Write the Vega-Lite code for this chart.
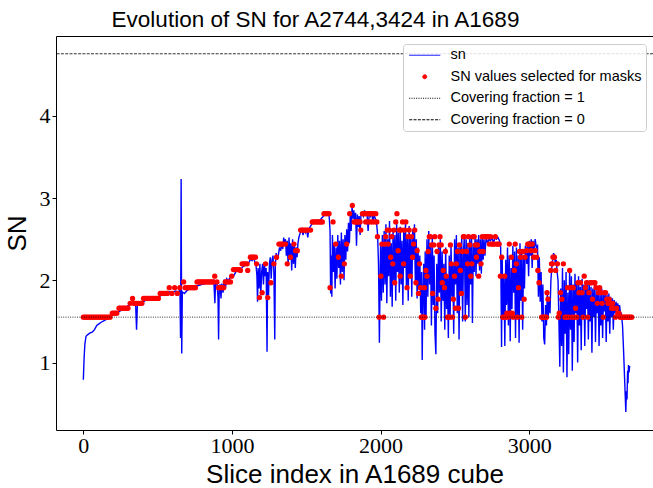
{
"$schema": "https://vega.github.io/schema/vega-lite/v6.json",
"width": 597, "height": 394,
"autosize": {"type": "none"},
"padding": {"left": 56, "top": 36, "right": 0, "bottom": 58},
"background": "white",
"config": {"view": {"stroke": null}, "font": "Liberation Sans"},
"title": {"text": "Evolution of SN for A2744,3424 in A1689", "font": "Liberation Sans", "fontSize": 22.5, "fontWeight": "normal", "color": "#000", "anchor": "middle", "dx": -39, "offset": 5},
"datasets": {
"sn": [
{"i":0,"sn":0.79},{"i":5,"sn":1.05},{"i":10,"sn":1.22},{"i":18,"sn":1.32},{"i":30,"sn":1.34},{"i":45,"sn":1.36},{"i":60,"sn":1.37},{"i":75,"sn":1.4},{"i":90,"sn":1.45},{"i":105,"sn":1.47},{"i":120,"sn":1.49},{"i":140,"sn":1.51},{"i":160,"sn":1.53},{"i":180,"sn":1.56},{"i":200,"sn":1.58},{"i":220,"sn":1.61},{"i":240,"sn":1.62},{"i":260,"sn":1.64},{"i":280,"sn":1.66},{"i":300,"sn":1.69},{"i":320,"sn":1.71},{"i":340,"sn":1.72},{"i":352,"sn":1.7},{"i":358,"sn":1.4},{"i":364,"sn":1.72},{"i":380,"sn":1.74},{"i":400,"sn":1.73},{"i":420,"sn":1.76},{"i":440,"sn":1.77},{"i":460,"sn":1.79},{"i":480,"sn":1.78},{"i":500,"sn":1.8},{"i":520,"sn":1.81},{"i":540,"sn":1.84},{"i":560,"sn":1.84},{"i":580,"sn":1.86},{"i":600,"sn":1.85},{"i":620,"sn":1.87},{"i":640,"sn":1.86},{"i":650,"sn":1.88},{"i":654,"sn":1.3},{"i":658,"sn":3.23},{"i":662,"sn":1.11},{"i":666,"sn":1.86},{"i":680,"sn":1.84},{"i":700,"sn":1.88},{"i":720,"sn":1.9},{"i":740,"sn":1.92},{"i":760,"sn":1.93},{"i":780,"sn":1.94},{"i":800,"sn":1.95},{"i":820,"sn":1.96},{"i":840,"sn":1.97},{"i":860,"sn":1.98},{"i":878,"sn":2.0},{"i":885,"sn":1.72},{"i":890,"sn":1.99},{"i":900,"sn":1.95},{"i":906,"sn":1.8},{"i":910,"sn":1.28},{"i":914,"sn":1.88},{"i":920,"sn":1.95},{"i":926,"sn":1.78},{"i":932,"sn":1.96},{"i":940,"sn":1.85},{"i":948,"sn":2.01},{"i":956,"sn":1.9},{"i":964,"sn":2.02},{"i":975,"sn":2.0},{"i":990,"sn":2.04},{"i":1000,"sn":2.06},
{"i":1010,"sn":2.05},{"i":1025,"sn":2.1},{"i":1040,"sn":2.13},{"i":1055,"sn":2.12},{"i":1070,"sn":2.16},{"i":1085,"sn":2.18},{"i":1100,"sn":2.2},{"i":1115,"sn":2.22},{"i":1125,"sn":2.26},{"i":1135,"sn":2.24},{"i":1145,"sn":2.27},{"i":1155,"sn":2.22},{"i":1162,"sn":2.18},{"i":1168,"sn":2.05},{"i":1172,"sn":1.74},{"i":1176,"sn":2.15},{"i":1182,"sn":1.9},{"i":1188,"sn":2.2},{"i":1194,"sn":1.82},{"i":1200,"sn":2.1},{"i":1206,"sn":2.2},{"i":1212,"sn":1.95},{"i":1218,"sn":2.22},{"i":1224,"sn":2.05},{"i":1230,"sn":2.15},{"i":1236,"sn":1.13},{"i":1240,"sn":2.1},{"i":1246,"sn":1.82},{"i":1252,"sn":2.2},{"i":1258,"sn":2.28},{"i":1264,"sn":2.02},{"i":1270,"sn":2.25},{"i":1276,"sn":2.3},{"i":1282,"sn":2.1},{"i":1288,"sn":1.28},{"i":1292,"sn":2.2},{"i":1298,"sn":2.33},{"i":1305,"sn":2.25},{"i":1312,"sn":2.3},{"i":1320,"sn":2.4},{"i":1328,"sn":2.36},{"i":1335,"sn":2.45},{"i":1342,"sn":2.38},{"i":1348,"sn":2.52},{"i":1354,"sn":2.42},{"i":1360,"sn":2.5},{"i":1366,"sn":2.3},{"i":1372,"sn":2.48},{"i":1378,"sn":2.18},{"i":1384,"sn":2.52},{"i":1390,"sn":2.25},{"i":1396,"sn":2.45},{"i":1402,"sn":2.12},{"i":1408,"sn":2.5},{"i":1414,"sn":2.2},{"i":1420,"sn":2.42},{"i":1426,"sn":2.15},{"i":1432,"sn":2.4},{"i":1438,"sn":2.28},{"i":1444,"sn":2.45},{"i":1450,"sn":2.52},{"i":1460,"sn":2.58},{"i":1470,"sn":2.62},{"i":1478,"sn":2.55},{"i":1486,"sn":2.63},{"i":1494,"sn":2.58},{"i":1502,"sn":2.62},{"i":1510,"sn":2.52},{"i":1518,"sn":2.63},{"i":1526,"sn":2.65},{"i":1536,"sn":2.68},{"i":1546,"sn":2.7},{"i":1556,"sn":2.72},{"i":1566,"sn":2.7},{"i":1576,"sn":2.73},{"i":1586,"sn":2.72},{"i":1596,"sn":2.74},{"i":1606,"sn":2.76},{"i":1616,"sn":2.78},{"i":1626,"sn":2.8},{"i":1636,"sn":2.82},{"i":1646,"sn":2.8},{"i":1654,"sn":2.78},
{"i":1660,"sn":2.6},{"i":1664,"sn":1.84},{"i":1668,"sn":2.3},{"i":1672,"sn":1.8},{"i":1676,"sn":2.55},{"i":1682,"sn":2.1},{"i":1688,"sn":2.45},{"i":1694,"sn":1.9},{"i":1700,"sn":2.4},{"i":1706,"sn":2.02},{"i":1712,"sn":2.55},{"i":1718,"sn":2.15},{"i":1724,"sn":2.48},{"i":1730,"sn":1.95},{"i":1736,"sn":2.58},{"i":1742,"sn":2.1},{"i":1748,"sn":2.5},{"i":1754,"sn":2.0},{"i":1760,"sn":2.55},{"i":1766,"sn":2.25},{"i":1772,"sn":2.62},{"i":1778,"sn":2.35},{"i":1784,"sn":2.7},{"i":1790,"sn":2.45},{"i":1796,"sn":2.78},{"i":1802,"sn":2.6},{"i":1808,"sn":2.9},{"i":1814,"sn":2.75},{"i":1820,"sn":2.85},{"i":1826,"sn":2.7},{"i":1832,"sn":2.82},{"i":1838,"sn":2.42},{"i":1844,"sn":2.8},{"i":1850,"sn":2.65},{"i":1856,"sn":2.78},{"i":1862,"sn":2.55},{"i":1868,"sn":2.8},{"i":1876,"sn":2.82},{"i":1884,"sn":2.78},{"i":1892,"sn":2.85},{"i":1900,"sn":2.8},{"i":1908,"sn":2.84},{"i":1916,"sn":2.6},{"i":1924,"sn":2.82},{"i":1932,"sn":2.78},{"i":1940,"sn":2.84},{"i":1948,"sn":2.7},{"i":1956,"sn":2.8},{"i":1964,"sn":2.75},{"i":1972,"sn":2.72},{"i":1980,"sn":2.55},
{"i":1986,"sn":2.2},{"i":1992,"sn":1.24},{"i":1996,"sn":1.9},{"i":2000,"sn":2.45},{"i":2006,"sn":1.75},{"i":2012,"sn":2.55},{"i":2018,"sn":1.85},{"i":2024,"sn":2.6},{"i":2030,"sn":1.95},{"i":2036,"sn":2.68},{"i":2042,"sn":1.72},{"i":2048,"sn":2.5},{"i":2054,"sn":2.05},{"i":2060,"sn":2.72},{"i":2066,"sn":1.8},{"i":2072,"sn":2.45},{"i":2078,"sn":1.68},{"i":2084,"sn":2.62},{"i":2090,"sn":2.0},{"i":2096,"sn":2.55},{"i":2102,"sn":1.75},{"i":2108,"sn":2.7},{"i":2114,"sn":2.1},{"i":2120,"sn":2.58},{"i":2126,"sn":1.85},{"i":2132,"sn":2.65},{"i":2138,"sn":1.95},{"i":2144,"sn":2.48},{"i":2150,"sn":1.7},{"i":2156,"sn":2.62},{"i":2162,"sn":2.15},{"i":2168,"sn":2.7},{"i":2174,"sn":1.9},{"i":2180,"sn":2.52},{"i":2186,"sn":1.75},{"i":2192,"sn":2.66},{"i":2198,"sn":2.05},{"i":2204,"sn":2.55},{"i":2210,"sn":1.8},{"i":2216,"sn":2.62},{"i":2222,"sn":2.25},{"i":2228,"sn":2.68},{"i":2234,"sn":1.95},{"i":2240,"sn":2.5},{"i":2246,"sn":1.78},{"i":2252,"sn":2.4},{"i":2258,"sn":1.9},{"i":2264,"sn":2.3},{"i":2270,"sn":1.6},{"i":2276,"sn":2.1},{"i":2280,"sn":1.03},{"i":2284,"sn":1.7},{"i":2290,"sn":2.2},{"i":2296,"sn":1.4},
{"i":2300,"sn":2.35},{"i":2306,"sn":1.55},{"i":2312,"sn":2.5},{"i":2318,"sn":1.8},{"i":2324,"sn":2.6},{"i":2330,"sn":1.95},{"i":2336,"sn":2.45},{"i":2342,"sn":1.45},{"i":2348,"sn":2.55},{"i":2354,"sn":1.7},{"i":2360,"sn":2.3},{"i":2366,"sn":1.36},{"i":2372,"sn":1.1},{"i":2378,"sn":2.2},{"i":2384,"sn":1.6},{"i":2390,"sn":2.45},{"i":2396,"sn":1.85},{"i":2402,"sn":2.5},{"i":2408,"sn":1.5},{"i":2414,"sn":2.35},{"i":2420,"sn":1.75},{"i":2426,"sn":2.2},{"i":2432,"sn":1.4},{"i":2438,"sn":2.4},{"i":2444,"sn":1.65},{"i":2450,"sn":2.05},{"i":2456,"sn":1.3},{"i":2462,"sn":2.3},{"i":2468,"sn":1.55},{"i":2474,"sn":2.45},{"i":2480,"sn":1.8},{"i":2486,"sn":2.2},{"i":2492,"sn":1.35},{"i":2498,"sn":2.5},{"i":2504,"sn":1.95},{"i":2510,"sn":2.55},{"i":2516,"sn":1.6},{"i":2522,"sn":2.4},{"i":2528,"sn":1.28},{"i":2534,"sn":2.45},{"i":2540,"sn":1.85},{"i":2546,"sn":2.55},{"i":2552,"sn":1.5},{"i":2558,"sn":2.35},{"i":2564,"sn":2.55},
{"i":2570,"sn":1.5},{"i":2576,"sn":2.5},{"i":2582,"sn":1.7},{"i":2588,"sn":2.45},{"i":2594,"sn":1.55},{"i":2600,"sn":2.52},{"i":2606,"sn":1.95},{"i":2612,"sn":2.55},{"i":2618,"sn":1.48},{"i":2624,"sn":2.45},{"i":2630,"sn":2.1},{"i":2636,"sn":2.55},{"i":2642,"sn":2.05},{"i":2648,"sn":2.5},{"i":2654,"sn":2.2},{"i":2660,"sn":2.55},{"i":2666,"sn":2.12},{"i":2672,"sn":2.5},{"i":2678,"sn":2.08},{"i":2684,"sn":2.55},{"i":2690,"sn":2.25},{"i":2696,"sn":2.5},{"i":2702,"sn":2.3},{"i":2710,"sn":2.52},{"i":2720,"sn":2.45},{"i":2730,"sn":2.5},{"i":2740,"sn":2.48},{"i":2750,"sn":2.52},{"i":2760,"sn":2.45},{"i":2770,"sn":2.52},{"i":2780,"sn":2.5},{"i":2790,"sn":2.52},{"i":2800,"sn":2.48},{"i":2808,"sn":2.4},
{"i":2814,"sn":1.19},{"i":2818,"sn":2.3},{"i":2824,"sn":1.55},{"i":2830,"sn":2.05},{"i":2836,"sn":1.2},{"i":2842,"sn":2.25},{"i":2848,"sn":1.7},{"i":2854,"sn":2.4},{"i":2860,"sn":1.45},{"i":2866,"sn":2.3},{"i":2872,"sn":1.26},{"i":2878,"sn":2.15},{"i":2884,"sn":1.65},{"i":2890,"sn":2.42},{"i":2896,"sn":1.85},{"i":2902,"sn":2.35},{"i":2908,"sn":1.3},{"i":2914,"sn":2.4},{"i":2920,"sn":1.55},{"i":2926,"sn":2.3},{"i":2932,"sn":1.24},{"i":2938,"sn":2.45},{"i":2944,"sn":1.75},{"i":2950,"sn":2.38},{"i":2956,"sn":1.4},{"i":2962,"sn":2.3},{"i":2968,"sn":1.9},{"i":2974,"sn":2.42},
{"i":2978,"sn":2.4},{"i":2984,"sn":2.2},{"i":2990,"sn":2.45},{"i":2996,"sn":2.05},{"i":3002,"sn":2.48},{"i":3008,"sn":2.3},{"i":3014,"sn":2.5},{"i":3020,"sn":2.15},{"i":3026,"sn":2.48},{"i":3032,"sn":2.35},{"i":3040,"sn":2.5},{"i":3048,"sn":2.4},{"i":3056,"sn":2.42},{"i":3062,"sn":1.8},{"i":3068,"sn":2.28},{"i":3074,"sn":1.74},{"i":3080,"sn":2.1},{"i":3086,"sn":1.5},{"i":3092,"sn":1.95},{"i":3098,"sn":1.3},{"i":3104,"sn":1.22},{"i":3110,"sn":1.7},{"i":3116,"sn":1.45},{"i":3122,"sn":1.85},{"i":3128,"sn":1.55},{"i":3134,"sn":1.8},{"i":3140,"sn":1.6},{"i":3146,"sn":2.0},{"i":3152,"sn":2.15},{"i":3158,"sn":2.25},{"i":3164,"sn":2.33},{"i":3170,"sn":2.3},{"i":3176,"sn":2.2},{"i":3182,"sn":2.25},{"i":3188,"sn":2.1},{"i":3194,"sn":2.0},{"i":3200,"sn":1.5},{"i":3206,"sn":0.95},{"i":3212,"sn":1.9},{"i":3218,"sn":1.2},{"i":3224,"sn":2.15},{"i":3230,"sn":0.88},{"i":3236,"sn":2.0},{"i":3242,"sn":1.35},{"i":3248,"sn":2.1},{"i":3254,"sn":0.82},{"i":3260,"sn":1.85},{"i":3266,"sn":1.1},{"i":3272,"sn":2.12},{"i":3278,"sn":1.4},{"i":3284,"sn":2.05},{"i":3290,"sn":0.9},{"i":3296,"sn":1.95},{"i":3302,"sn":1.25},{"i":3308,"sn":2.08},{"i":3314,"sn":1.6},{"i":3320,"sn":1.98},{"i":3326,"sn":1.0},{"i":3332,"sn":2.05},{"i":3338,"sn":1.45},{"i":3344,"sn":1.92},{"i":3350,"sn":1.15},{"i":3356,"sn":2.02},{"i":3362,"sn":1.55},{"i":3368,"sn":1.95},{"i":3374,"sn":1.2},{"i":3380,"sn":1.98},{"i":3386,"sn":1.65},{"i":3392,"sn":2.0},{"i":3398,"sn":1.28},{"i":3404,"sn":1.95},{"i":3410,"sn":1.5},{"i":3416,"sn":1.92},{"i":3422,"sn":1.12},{"i":3428,"sn":1.9},{"i":3434,"sn":1.55},{"i":3440,"sn":1.95},{"i":3446,"sn":1.25},{"i":3452,"sn":1.88},{"i":3458,"sn":1.6},{"i":3464,"sn":1.92},{"i":3470,"sn":1.2},{"i":3476,"sn":1.85},{"i":3482,"sn":1.45},{"i":3488,"sn":1.9},{"i":3494,"sn":1.3},{"i":3500,"sn":1.85},{"i":3506,"sn":1.62},{"i":3512,"sn":1.86},{"i":3518,"sn":1.25},{"i":3524,"sn":1.82},{"i":3530,"sn":1.5},{"i":3536,"sn":1.84},{"i":3542,"sn":1.35},{"i":3548,"sn":1.8},{"i":3554,"sn":1.55},{"i":3560,"sn":1.78},{"i":3566,"sn":1.4},{"i":3572,"sn":1.76},{"i":3578,"sn":1.6},{"i":3584,"sn":1.74},{"i":3590,"sn":1.65},{"i":3596,"sn":1.72},{"i":3602,"sn":1.62},{"i":3608,"sn":1.7},{"i":3614,"sn":1.6},{"i":3620,"sn":1.6},{"i":3628,"sn":1.45},{"i":3636,"sn":1.1},{"i":3644,"sn":0.7},{"i":3650,"sn":0.4},{"i":3654,"sn":0.65},{"i":3658,"sn":0.55},{"i":3662,"sn":0.9},{"i":3665,"sn":0.75},{"i":3668,"sn":0.97},{"i":3672,"sn":0.88},{"i":3676,"sn":0.96}
],
"sel": [
{"i":0,"sn":1.552},{"i":10,"sn":1.552},{"i":20,"sn":1.552},{"i":30,"sn":1.552},{"i":40,"sn":1.552},{"i":50,"sn":1.552},{"i":60,"sn":1.552},{"i":70,"sn":1.552},{"i":80,"sn":1.552},{"i":90,"sn":1.552},{"i":100,"sn":1.552},{"i":110,"sn":1.552},{"i":120,"sn":1.552},{"i":130,"sn":1.552},{"i":140,"sn":1.552},{"i":150,"sn":1.552},{"i":160,"sn":1.552},{"i":170,"sn":1.552},{"i":180,"sn":1.552},
{"i":195,"sn":1.6},{"i":205,"sn":1.6},{"i":215,"sn":1.6},{"i":225,"sn":1.6},{"i":240,"sn":1.66},{"i":250,"sn":1.66},{"i":260,"sn":1.66},{"i":270,"sn":1.66},{"i":280,"sn":1.66},{"i":290,"sn":1.66},{"i":300,"sn":1.66},{"i":315,"sn":1.72},{"i":331,"sn":1.78},{"i":340,"sn":1.72},{"i":350,"sn":1.72},{"i":360,"sn":1.72},{"i":372,"sn":1.72},{"i":384,"sn":1.72},{"i":394,"sn":1.72},
{"i":405,"sn":1.78},{"i":415,"sn":1.78},{"i":425,"sn":1.78},{"i":435,"sn":1.78},{"i":445,"sn":1.78},{"i":455,"sn":1.78},{"i":465,"sn":1.78},{"i":475,"sn":1.78},{"i":485,"sn":1.78},{"i":495,"sn":1.78},{"i":505,"sn":1.78},{"i":517,"sn":1.84},{"i":527,"sn":1.84},{"i":537,"sn":1.84},{"i":547,"sn":1.84},{"i":557,"sn":1.84},{"i":565,"sn":1.84},{"i":578,"sn":1.91},{"i":596,"sn":1.84},{"i":614,"sn":1.91},{"i":632,"sn":1.84},{"i":649,"sn":1.91},{"i":675,"sn":1.98},
{"i":686,"sn":1.91},{"i":696,"sn":1.91},{"i":706,"sn":1.91},{"i":716,"sn":1.91},{"i":726,"sn":1.91},{"i":736,"sn":1.91},{"i":746,"sn":1.91},{"i":754,"sn":1.91},{"i":765,"sn":1.98},{"i":775,"sn":1.98},{"i":785,"sn":1.98},{"i":795,"sn":1.98},{"i":805,"sn":1.98},{"i":815,"sn":1.98},{"i":825,"sn":1.98},{"i":835,"sn":1.98},{"i":845,"sn":1.98},{"i":855,"sn":1.98},{"i":865,"sn":1.98},{"i":875,"sn":1.98},{"i":884,"sn":2.05},{"i":899,"sn":1.98},{"i":910,"sn":1.91},{"i":920,"sn":1.91},{"i":932,"sn":1.91},{"i":944,"sn":1.91},{"i":955,"sn":1.98},{"i":965,"sn":1.98},{"i":978,"sn":1.98},{"i":990,"sn":1.98},{"i":998,"sn":2.05},
{"i":1010,"sn":2.13},{"i":1020,"sn":2.13},{"i":1030,"sn":2.13},{"i":1040,"sn":2.13},{"i":1050,"sn":2.13},{"i":1057,"sn":2.12},{"i":1068,"sn":2.2},{"i":1078,"sn":2.2},{"i":1090,"sn":2.2},{"i":1102,"sn":2.2},{"i":1106,"sn":2.12},{"i":1124,"sn":2.28},{"i":1135,"sn":2.28},{"i":1146,"sn":2.28},{"i":1158,"sn":2.28},{"i":1165,"sn":2.2},{"i":1185,"sn":1.79},{"i":1203,"sn":1.85},{"i":1226,"sn":2.2},{"i":1241,"sn":1.79},{"i":1262,"sn":1.97},{"i":1282,"sn":2.2},{"i":1300,"sn":2.28},
{"i":1316,"sn":2.44},{"i":1325,"sn":2.44},{"i":1335,"sn":2.44},{"i":1345,"sn":2.44},{"i":1360,"sn":2.44},{"i":1372,"sn":2.2},{"i":1394,"sn":2.28},{"i":1417,"sn":2.44},{"i":1428,"sn":2.36},{"i":1440,"sn":2.36},
{"i":1462,"sn":2.61},{"i":1472,"sn":2.61},{"i":1482,"sn":2.61},{"i":1492,"sn":2.61},{"i":1502,"sn":2.61},{"i":1512,"sn":2.61},{"i":1529,"sn":2.61},{"i":1540,"sn":2.71},{"i":1550,"sn":2.71},{"i":1560,"sn":2.71},{"i":1570,"sn":2.71},{"i":1580,"sn":2.71},{"i":1590,"sn":2.71},{"i":1600,"sn":2.71},{"i":1608,"sn":2.71},
{"i":1619,"sn":2.81},{"i":1630,"sn":2.81},{"i":1640,"sn":2.81},{"i":1653,"sn":2.81},{"i":1660,"sn":1.91},{"i":1680,"sn":2.71},{"i":1698,"sn":2.44},{"i":1716,"sn":2.28},{"i":1736,"sn":2.05},{"i":1756,"sn":2.2},{"i":1772,"sn":2.44},{"i":1792,"sn":2.81},{"i":1810,"sn":2.91},
{"i":1822,"sn":2.71},{"i":1832,"sn":2.71},{"i":1842,"sn":2.71},{"i":1852,"sn":2.71},{"i":1862,"sn":2.71},{"i":1867,"sn":2.61},{"i":1878,"sn":2.81},{"i":1888,"sn":2.81},{"i":1898,"sn":2.81},{"i":1908,"sn":2.81},{"i":1918,"sn":2.81},{"i":1928,"sn":2.81},{"i":1940,"sn":2.81},{"i":1950,"sn":2.81},{"i":1968,"sn":2.81},{"i":1900,"sn":2.71},{"i":1912,"sn":2.71},{"i":1930,"sn":2.71},{"i":1945,"sn":2.71},{"i":1960,"sn":2.71},{"i":1975,"sn":2.71},
{"i":1979,"sn":2.53},{"i":1990,"sn":1.552},{"i":2002,"sn":2.05},{"i":2009,"sn":2.44},{"i":2020,"sn":1.552},{"i":2029,"sn":2.44},
{"i":2035,"sn":2.53},{"i":2045,"sn":2.61},{"i":2052,"sn":2.44},{"i":2060,"sn":2.61},{"i":2068,"sn":2.28},{"i":2075,"sn":2.53},{"i":2082,"sn":2.2},{"i":2090,"sn":2.61},{"i":2095,"sn":1.97},{"i":2102,"sn":2.71},{"i":2110,"sn":2.81},{"i":2118,"sn":2.36},{"i":2125,"sn":2.61},{"i":2132,"sn":2.05},{"i":2140,"sn":2.61},{"i":2148,"sn":2.71},{"i":2155,"sn":2.2},{"i":2162,"sn":2.61},{"i":2170,"sn":2.71},{"i":2178,"sn":1.91},{"i":2185,"sn":2.53},{"i":2192,"sn":2.61},{"i":2200,"sn":2.05},{"i":2208,"sn":2.53},{"i":2215,"sn":2.28},{"i":2222,"sn":2.44},{"i":2230,"sn":2.61},{"i":2238,"sn":1.97},{"i":2246,"sn":2.36},{"i":2255,"sn":1.84},{"i":2262,"sn":2.2},{"i":2268,"sn":1.91},
{"i":2274,"sn":1.552},{"i":2282,"sn":1.552},{"i":2290,"sn":1.552},{"i":2298,"sn":1.552},{"i":2295,"sn":1.91},{"i":2305,"sn":2.12},{"i":2312,"sn":2.05},{"i":2320,"sn":2.35},{"i":2328,"sn":2.53},{"i":2335,"sn":2.53},{"i":2342,"sn":2.43},{"i":2350,"sn":1.84},{"i":2358,"sn":2.43},{"i":2365,"sn":2.53},
{"i":2372,"sn":1.66},{"i":2380,"sn":2.35},{"i":2387,"sn":1.77},{"i":2394,"sn":2.43},{"i":2400,"sn":2.53},{"i":2408,"sn":2.43},{"i":2415,"sn":1.97},{"i":2422,"sn":2.12},{"i":2430,"sn":1.91},{"i":2436,"sn":2.35},{"i":2442,"sn":2.05},{"i":2450,"sn":1.552},{"i":2456,"sn":1.552},{"i":2462,"sn":1.552},{"i":2470,"sn":2.43},{"i":2476,"sn":2.2},{"i":2484,"sn":1.552},{"i":2490,"sn":1.77},{"i":2497,"sn":2.05},{"i":2504,"sn":1.66},{"i":2510,"sn":2.2},{"i":2517,"sn":2.35},{"i":2524,"sn":1.66},{"i":2530,"sn":2.43},{"i":2537,"sn":2.12},{"i":2544,"sn":1.84},{"i":2550,"sn":2.35},{"i":2557,"sn":2.53},{"i":2563,"sn":2.53},{"i":2570,"sn":1.552},
{"i":2578,"sn":2.35},{"i":2585,"sn":2.2},{"i":2592,"sn":2.53},{"i":2600,"sn":2.43},{"i":2607,"sn":2.05},{"i":2614,"sn":2.2},{"i":2622,"sn":2.53},{"i":2630,"sn":2.53},{"i":2638,"sn":2.43},{"i":2645,"sn":2.28},{"i":2652,"sn":2.43},{"i":2660,"sn":2.05},{"i":2668,"sn":2.35},{"i":2676,"sn":2.2},{"i":2684,"sn":2.53},{"i":2690,"sn":2.35},{"i":2700,"sn":2.53},{"i":2708,"sn":2.53},{"i":2716,"sn":2.53},{"i":2724,"sn":2.53},{"i":2732,"sn":2.44},{"i":2740,"sn":2.53},{"i":2748,"sn":2.44},{"i":2756,"sn":2.44},{"i":2764,"sn":2.44},{"i":2772,"sn":2.53},{"i":2780,"sn":2.44},{"i":2790,"sn":2.44},{"i":2798,"sn":2.44},{"i":2806,"sn":2.05},
{"i":2815,"sn":2.28},{"i":2822,"sn":1.552},{"i":2828,"sn":1.552},{"i":2835,"sn":2.05},{"i":2842,"sn":1.552},{"i":2850,"sn":1.6},{"i":2858,"sn":1.552},{"i":2866,"sn":2.44},{"i":2874,"sn":1.6},{"i":2880,"sn":2.28},{"i":2886,"sn":1.6},{"i":2892,"sn":1.552},{"i":2900,"sn":2.12},{"i":2906,"sn":2.44},{"i":2914,"sn":2.2},{"i":2920,"sn":1.552},{"i":2928,"sn":1.91},{"i":2935,"sn":2.35},{"i":2942,"sn":2.28},{"i":2950,"sn":1.552},{"i":2958,"sn":2.35},{"i":2966,"sn":1.77},{"i":2972,"sn":2.28},
{"i":2982,"sn":2.36},{"i":2990,"sn":2.44},{"i":2998,"sn":2.44},{"i":3005,"sn":2.44},{"i":3012,"sn":2.36},{"i":3020,"sn":2.44},{"i":3030,"sn":2.28},{"i":3040,"sn":2.36},{"i":3050,"sn":2.28},{"i":3058,"sn":2.12},{"i":3066,"sn":1.97},
{"i":3084,"sn":1.552},{"i":3092,"sn":1.552},{"i":3100,"sn":1.552},{"i":3108,"sn":1.552},{"i":3116,"sn":1.552},{"i":3120,"sn":1.85},{"i":3126,"sn":1.77},{"i":3145,"sn":2.12},{"i":3150,"sn":2.2},{"i":3156,"sn":2.2},{"i":3160,"sn":2.28},
{"i":3170,"sn":2.28},{"i":3178,"sn":2.12},{"i":3190,"sn":2.2},{"i":3196,"sn":1.552},{"i":3202,"sn":1.6},{"i":3210,"sn":1.85},{"i":3220,"sn":1.77},{"i":3230,"sn":2.2},{"i":3240,"sn":1.552},{"i":3250,"sn":1.552},{"i":3258,"sn":1.91},{"i":3265,"sn":1.552},{"i":3272,"sn":2.12},{"i":3280,"sn":1.91},{"i":3288,"sn":1.552},{"i":3296,"sn":1.91},{"i":3305,"sn":1.552},{"i":3312,"sn":1.66},{"i":3320,"sn":1.552},{"i":3328,"sn":1.97},{"i":3335,"sn":1.85},{"i":3345,"sn":1.97},{"i":3355,"sn":1.85},{"i":3362,"sn":1.552},{"i":3370,"sn":2.05},{"i":3378,"sn":1.91},{"i":3386,"sn":1.97},{"i":3394,"sn":1.552},{"i":3402,"sn":1.85},{"i":3410,"sn":1.97},{"i":3418,"sn":1.97},{"i":3426,"sn":1.77},{"i":3434,"sn":1.97},{"i":3442,"sn":1.97},{"i":3450,"sn":1.91},{"i":3458,"sn":1.72},{"i":3466,"sn":1.85},{"i":3474,"sn":1.91},{"i":3482,"sn":1.85},{"i":3490,"sn":1.72},{"i":3498,"sn":1.552},{"i":3506,"sn":1.85},{"i":3514,"sn":1.85},{"i":3522,"sn":1.77},{"i":3530,"sn":1.72},{"i":3538,"sn":1.77},{"i":3546,"sn":1.72},{"i":3554,"sn":1.66},{"i":3562,"sn":1.72},{"i":3570,"sn":1.66},{"i":3580,"sn":1.552},{"i":3588,"sn":1.66},{"i":3596,"sn":1.6},{"i":3604,"sn":1.6},{"i":3612,"sn":1.552},
{"i":3618,"sn":1.552},{"i":3626,"sn":1.552},{"i":3634,"sn":1.552},{"i":3642,"sn":1.552},{"i":3650,"sn":1.552},{"i":3658,"sn":1.552},{"i":3666,"sn":1.552},{"i":3674,"sn":1.552},{"i":3682,"sn":1.552},{"i":3690,"sn":1.552}
]
},
"layer": [
{"data": {"name": "sn"}, "mark": {"type": "line", "strokeWidth": 1.4, "clip": true},
 "encoding": {
  "x": {"field": "i", "type": "quantitative", "scale": {"domain": [-184, 3833], "nice": false, "zero": false},
        "axis": {"values": [0, 1000, 2000, 3000], "format": "d", "title": "Slice index in A1689 cube", "titleFont": "Liberation Sans", "titleFontSize": 26, "titleFontWeight": "normal", "titleColor": "#000", "titlePadding": 5, "labelFont": "Liberation Serif", "labelFontSize": 22, "labelColor": "#000", "labelPadding": 1, "labelFlush": false, "tickSize": 4, "tickColor": "#000", "domainColor": "#000", "grid": false,
                 "encode": {"ticks": {"update": {"y2": {"value": -4}}}}}},
  "y": {"field": "sn", "type": "quantitative", "scale": {"domain": [0.18, 4.97], "nice": false, "zero": false},
        "axis": {"values": [1, 2, 3, 4], "format": "d", "title": "SN", "titleFont": "Liberation Sans", "titleFontSize": 26, "titleFontWeight": "normal", "titleColor": "#000", "titlePadding": 9, "labelFont": "Liberation Serif", "labelFontSize": 22, "labelColor": "#000", "labelPadding": 2, "labelFlush": false, "tickSize": 4, "tickColor": "#000", "domainColor": "#000", "grid": false,
                 "encode": {"ticks": {"update": {"x2": {"value": 4}}}}}},
  "color": {"datum": "sn", "type": "nominal",
    "scale": {"domain": ["sn", "SN values selected for masks", "Covering fraction = 1", "Covering fraction = 0"], "range": ["#0000ff", "#ff0000", "#000000", "#000000"]},
    "legend": {"title": null, "orient": "none", "legendX": 347, "legendY": 8, "fillColor": "rgba(255,255,255,0.85)", "strokeColor": "#cccccc", "cornerRadius": 3, "padding": 4, "labelFont": "Liberation Sans", "labelFontSize": 14.5, "labelColor": "#000", "labelOffset": 29, "labelLimit": 0, "rowPadding": 6.5, "symbolSize": 100, "symbolStrokeWidth": 1,
      "encode": {"symbols": {"update": {
        "shape": {"signal": "datum.value === 'SN values selected for masks' ? 'M2.5,0A0.4,0.4 0 1,1 1.7,0A0.4,0.4 0 1,1 2.5,0Z' : 'M-1,0H5.2'"},
        "size": {"value": 100},
        "fill": {"signal": "datum.value === 'SN values selected for masks' ? '#ff0000' : 'transparent'"},
        "stroke": {"signal": "datum.value === 'SN values selected for masks' ? 'transparent' : (datum.value === 'sn' ? '#0000ff' : '#000000')"},
        "strokeDash": {"signal": "datum.value === 'Covering fraction = 1' ? [1, 1.3] : (datum.value === 'Covering fraction = 0' ? [3, 1.3] : [1, 0])"},
        "strokeWidth": {"value": 1},
        "opacity": {"value": 1}}}}}}
 }},
{"data": {"name": "sel"}, "mark": {"type": "point", "filled": true, "opacity": 1, "size": 28, "clip": true},
 "encoding": {
  "x": {"field": "i", "type": "quantitative", "axis": {"orient": "top", "labels": false, "ticks": false, "title": null, "domain": true, "domainColor": "#000", "grid": false, "minExtent": 0, "maxExtent": 0, "offset": 0}},
  "y": {"field": "sn", "type": "quantitative"},
  "color": {"datum": "SN values selected for masks", "type": "nominal"}}},
{"data": {"values": [{}]}, "mark": {"type": "rule", "strokeWidth": 0.8, "strokeDash": [1, 1.3]},
 "encoding": {"y": {"datum": 1.552}, "color": {"datum": "Covering fraction = 1", "type": "nominal"}}},
{"data": {"values": [{}]}, "mark": {"type": "rule", "strokeWidth": 0.8, "strokeDash": [3, 1.3]},
 "encoding": {"y": {"datum": 4.754}, "color": {"datum": "Covering fraction = 0", "type": "nominal"}}}
],
"resolve": {"axis": {"x": "independent"}}
}
